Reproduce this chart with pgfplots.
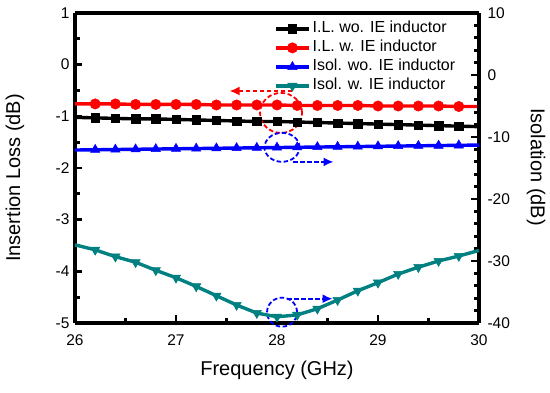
\documentclass[border=0pt]{standalone}
\usepackage{fontspec}
\setmainfont{Liberation Sans}
\usepackage{pgfplots}
\pgfplotsset{compat=1.18}
\usetikzlibrary{arrows.meta}
\definecolor{dcyan}{RGB}{0,128,128}

\pgfplotstableread{
f il_wo il_w
26.0 -1.02 -0.76
26.2 -1.03 -0.76
26.4 -1.04 -0.76
26.6 -1.05 -0.77
26.8 -1.05 -0.77
27.0 -1.06 -0.77
27.2 -1.07 -0.77
27.4 -1.08 -0.78
27.6 -1.09 -0.78
27.8 -1.10 -0.78
28.0 -1.10 -0.78
28.2 -1.11 -0.79
28.4 -1.12 -0.79
28.6 -1.13 -0.79
28.8 -1.14 -0.79
29.0 -1.15 -0.80
29.2 -1.16 -0.80
29.4 -1.17 -0.80
29.6 -1.18 -0.80
29.8 -1.19 -0.81
30.0 -1.20 -0.81
}\iltable

\pgfplotstableread{
f iso_wo iso_w
26.0 -12.10 -27.4
26.2 -12.06 -28.2
26.4 -12.02 -29.3
26.6 -11.98 -30.2
26.8 -11.94 -31.5
27.0 -11.90 -32.7
27.2 -11.86 -34.1
27.4 -11.82 -35.6
27.6 -11.78 -37.1
27.8 -11.74 -38.4
28.0 -11.70 -39.0
28.2 -11.66 -38.7
28.4 -11.62 -37.7
28.6 -11.58 -36.3
28.8 -11.54 -34.8
29.0 -11.50 -33.5
29.2 -11.46 -32.1
29.4 -11.42 -31.0
29.6 -11.38 -30.0
29.8 -11.34 -29.2
30.0 -11.30 -28.3
}\isotable

\pgfplotsset{
  legend image code/.code={%
    \draw[#1, mark=none] (0pt,0pt) -- (33pt,0pt);
    \draw[#1, draw=none] plot coordinates {(16.5pt,0pt)};},
  sqA/.style={black, mark=square*, mark size=4.2pt, line width=3.4pt, mark options={solid, line width=0.5pt}},
  ciB/.style={red, mark=*, mark size=5.2pt, line width=3.4pt, mark options={solid, line width=0.5pt}},
  trC/.style={blue, mark=triangle*, mark size=5.4pt, line width=3.4pt, mark options={solid, line width=0.5pt}},
  trD/.style={dcyan, mark=triangle*, mark size=5.4pt, line width=3.4pt, mark options={solid, line width=0.5pt, rotate=180}},
  myaxis/.style={
    scale only axis, width=404pt, height=310pt, at={(0pt,0pt)}, anchor=south west,
    xmin=26, xmax=30, clip=false,
    separate axis lines,
    every outer x axis line/.append style={line width=3.8pt, black},
    every outer y axis line/.append style={line width=3.8pt, black},
    every tick/.append style={line width=2.8pt, black},
    major tick length=7.5pt, minor tick length=5pt,
    tick align=inside,
    /pgf/number format/assume math mode=true,
    tick label style={font=\fontsize{15.5}{15.5}\selectfont},
    label style={font=\fontsize{20}{20}\selectfont},
  },
}

\begin{document}
\begin{tikzpicture}
\useasboundingbox (-75pt,-70pt) rectangle (475pt,323pt);
\begin{axis}[myaxis,
  ymin=-5, ymax=1, ytick={-5,-4,-3,-2,-1,0,1}, minor y tick num=1,
  xtick={26,27,28,29,30}, minor x tick num=1,
  xtick pos=bottom, ytick pos=left,
  xticklabel style={yshift=-8pt},
  yticklabel style={xshift=-2pt},
  xlabel={Frequency (GHz)},
  ylabel={Insertion Loss (dB)},
  xlabel style={at={(axis description cs:0.5,-0.1516)}, anchor=center},
  ylabel style={at={(axis description cs:-0.1485,0.468)}, anchor=center},
]
\addplot[sqA, mark=none, forget plot] table[x=f, y=il_wo] {\iltable};
\addplot[sqA, only marks, restrict x to domain=26.1:29.9, forget plot] table[x=f, y=il_wo] {\iltable};
\addplot[ciB, mark=none, forget plot] table[x=f, y=il_w] {\iltable};
\addplot[ciB, only marks, restrict x to domain=26.1:29.9, forget plot] table[x=f, y=il_w] {\iltable};
\draw[red, line width=1.8pt, dash pattern=on 4.5pt off 2.5pt] (axis cs:28.04,-0.934) ellipse [x radius=21pt, y radius=20pt];
\draw[red, line width=1.8pt, dash pattern=on 4.5pt off 2.5pt, -{Latex[length=10pt,width=9pt]}] (axis cs:28.15,-0.51) -- (axis cs:27.53,-0.51);
\draw[blue, line width=1.8pt, dash pattern=on 4.5pt off 2.5pt] (axis cs:28.05,-1.60) ellipse [x radius=17.5pt, y radius=14.5pt];
\draw[blue, line width=1.8pt, dash pattern=on 4.5pt off 2.5pt, -{Latex[length=10pt,width=9pt]}] (axis cs:28.16,-1.882) -- (axis cs:28.56,-1.882);
\draw[blue, line width=1.8pt, dash pattern=on 4.5pt off 2.5pt] (axis cs:28.05,-4.79) ellipse [x radius=15pt, y radius=14.5pt];
\draw[blue, line width=1.8pt, dash pattern=on 4.5pt off 2.5pt, -{Latex[length=10pt,width=9pt]}] (axis cs:28.1,-4.53) -- (axis cs:28.55,-4.53);
\end{axis}
\begin{axis}[myaxis,
  axis x line=none, axis y line*=right,
  ymin=-40, ymax=10, ytick={-40,-30,-20,-10,0,10}, minor y tick num=4,
  ytick pos=right,
  yticklabel style={xshift=5pt},
  ylabel={Isolation (dB)},
  ylabel style={at={(axis description cs:1.141,0.503)}, anchor=center, rotate=180},
  legend style={draw=none, fill=none, at={(axis description cs:0.505,0.98)}, anchor=north west, xshift=-5pt,
    font=\fontsize{16}{16}\selectfont, row sep=0pt, inner sep=0pt,
    nodes={inner sep=2pt, text height=11pt, text depth=4pt}},
  legend cell align=left,
]
\addplot[trC, mark=none, forget plot] table[x=f, y=iso_wo] {\isotable};
\addplot[trC, only marks, restrict x to domain=26.1:29.9, forget plot] table[x=f, y=iso_wo] {\isotable};
\addplot[trD, mark=none, forget plot] table[x=f, y=iso_w] {\isotable};
\addplot[trD, only marks, restrict x to domain=26.1:29.9, forget plot] table[x=f, y=iso_w] {\isotable};
\addlegendimage{sqA}
\addlegendentry{I.L. wo. IE inductor}
\addlegendimage{ciB}
\addlegendentry{I.L. w. IE inductor}
\addlegendimage{trC}
\addlegendentry{Isol. wo. IE inductor}
\addlegendimage{trD}
\addlegendentry{Isol. w. IE inductor}
\end{axis}
\end{tikzpicture}
\end{document}
